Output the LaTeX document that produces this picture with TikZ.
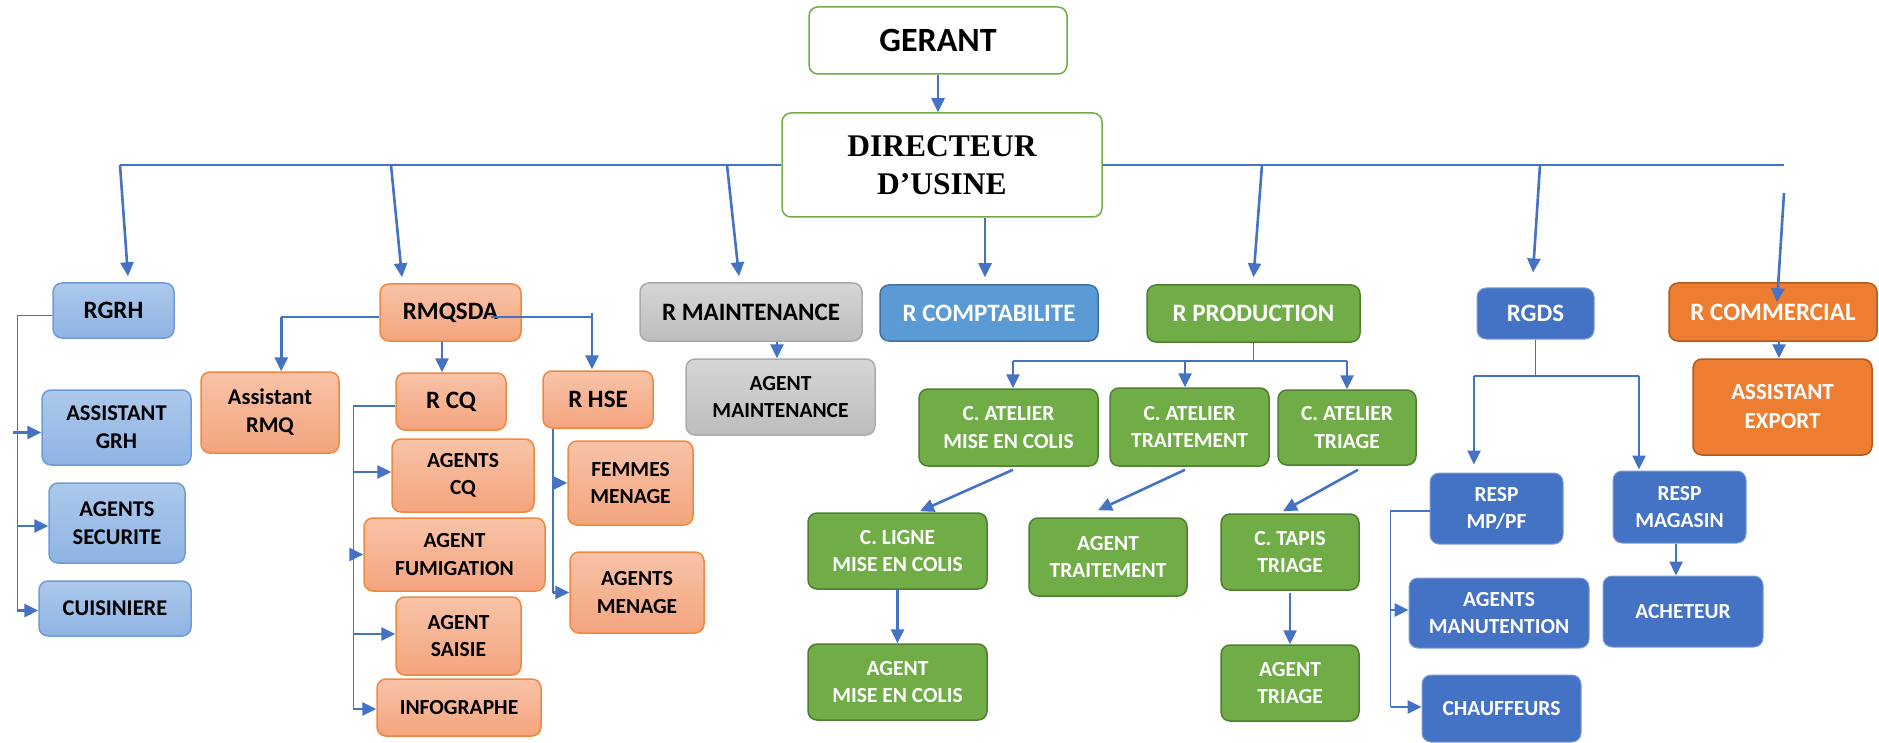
\documentclass[tikz,border=0pt]{standalone}
\usepackage{fontspec}
\setmainfont{Carlito}
\newfontfamily\serifbold{Liberation Serif}
\usetikzlibrary{arrows.meta}

\definecolor{link}{HTML}{4472C4}
\definecolor{topgreen}{HTML}{70AD47}
\definecolor{lbTop}{HTML}{ADC9EC}
\definecolor{lbBot}{HTML}{8EB3E3}
\definecolor{lbDraw}{HTML}{6E9DD6}
\definecolor{orTop}{HTML}{F8C3A8}
\definecolor{orBot}{HTML}{F4A47E}
\definecolor{orDraw}{HTML}{F0883F}
\definecolor{grTop}{HTML}{D6D6D6}
\definecolor{grBot}{HTML}{BDBDBD}
\definecolor{grDraw}{HTML}{ABABAB}
\definecolor{cpFill}{HTML}{5B9BD5}
\definecolor{cpDraw}{HTML}{41719C}
\definecolor{gnFill}{HTML}{70AD47}
\definecolor{gnDraw}{HTML}{507E32}
\definecolor{dbFill}{HTML}{4472C4}
\definecolor{dbDraw}{HTML}{7F9DD8}
\definecolor{ocFill}{HTML}{ED7D31}
\definecolor{ocDraw}{HTML}{AE5A21}

\begin{document}
\begin{tikzpicture}[x=1pt,y=-1pt,
  box/.style={rounded corners=9pt, inner sep=0pt, align=center, line width=1.5pt,
    font=\bfseries\fontsize{21.5}{27.5}\selectfont},
  big/.style={font=\bfseries\fontsize{22.5}{28}\selectfont},
  head/.style={font=\bfseries\fontsize{25}{29}\selectfont},
  topbox/.style={box, draw=topgreen, fill=white},
  lblue/.style={box, big, draw=lbDraw, top color=lbTop, bottom color=lbBot, text=black},
  lorange/.style={box, draw=orDraw, top color=orTop, bottom color=orBot, text=black},
  lgrey/.style={box, draw=grDraw, top color=grTop, bottom color=grBot, text=black},
  compta/.style={box, draw=cpDraw, fill=cpFill, text=white},
  green/.style={box, draw=gnDraw, fill=gnFill, text=white},
  dblue/.style={box, draw=dbDraw, fill=dbFill, text=white, line width=1pt},
  dorange/.style={box, draw=ocDraw, fill=ocFill, text=white},
  conn/.style={draw=link, line width=1.5pt},
  arrow/.style={draw=link, line width=2.6pt, -{Triangle[length=14pt,width=13pt]}},
]
\useasboundingbox (0,0) rectangle (1879,743);

% ---- top management ----
\node[topbox, minimum width=258pt, minimum height=67pt, font=\bfseries\fontsize{34}{38}\selectfont] (gerant) at (938,40.5) {GERANT};
\node[topbox, minimum width=320pt, minimum height=104pt, font=\serifbold\bfseries\fontsize{31.5}{38}\selectfont] (dir) at (942,165) {DIRECTEUR\\D’USINE};

% ---- department heads ----
\node[lblue, head, minimum width=121pt, minimum height=55pt] (rgrh) at (113.5,310.5) {RGRH};
\node[lorange, head, minimum width=141pt, minimum height=57pt] (rmq) at (450.5,312.5) {RMQSDA};
\node[lgrey, head, minimum width=222pt, minimum height=58pt] (rmaint) at (751,312) {R MAINTENANCE};
\node[compta, head, minimum width=218pt, minimum height=56pt] (rcompta) at (989,313) {R COMPTABILITE};
\node[green, head, minimum width=213pt, minimum height=57pt] (rprod) at (1253.5,313.5) {R PRODUCTION};
\node[dblue, head, minimum width=117pt, minimum height=51pt] (rgds) at (1535.5,313.5) {RGDS};
\node[dorange, head, minimum width=208pt, minimum height=58pt] (rcom) at (1773,312) {R COMMERCIAL};

% ---- human resources ----
\node[lblue, minimum width=149pt, minimum height=75pt] (agrh) at (116.5,427.5) {ASSISTANT\\GRH};
\node[lblue, minimum width=136pt, minimum height=80pt] (asec) at (117,523) {AGENTS\\SECURITE};
\node[lblue, minimum width=152pt, minimum height=55pt] (cuis) at (115,608.5) {CUISINIERE};

% ---- quality ----
\node[lorange, big, minimum width=138pt, minimum height=81pt] (armq) at (270,412.5) {Assistant\\RMQ};
\node[lorange, head, minimum width=110pt, minimum height=57pt] (rcq) at (451,401.5) {R CQ};
\node[lorange, head, minimum width=110pt, minimum height=57pt] (rhse) at (598,399.5) {R HSE};
\node[lorange, minimum width=142pt, minimum height=73pt] (agcq) at (463,475.5) {AGENTS\\CQ};
\node[lorange, minimum width=181pt, minimum height=73pt] (afum) at (454.5,554.5) {AGENT\\FUMIGATION};
\node[lorange, minimum width=125pt, minimum height=78pt] (asai) at (458.5,636) {AGENT\\SAISIE};
\node[lorange, minimum width=164pt, minimum height=57pt] (info) at (459,707.5) {INFOGRAPHE};
\node[lorange, minimum width=125pt, minimum height=84pt] (femm) at (630.5,483) {FEMMES\\MENAGE};
\node[lorange, minimum width=134pt, minimum height=81pt] (amen) at (637,592.5) {AGENTS\\MENAGE};

% ---- maintenance ----
\node[lgrey, minimum width=189pt, minimum height=76pt] (amaint) at (780.5,397) {AGENT\\MAINTENANCE};

% ---- production ----
\node[green, minimum width=179pt, minimum height=77pt] (camec) at (1008.5,427.5) {C. ATELIER\\MISE EN COLIS};
\node[green, minimum width=159pt, minimum height=78pt] (catrt) at (1189.5,427) {C. ATELIER\\TRAITEMENT};
\node[green, minimum width=138pt, minimum height=75pt] (catri) at (1347,427.5) {C. ATELIER\\TRIAGE};
\node[green, minimum width=179pt, minimum height=76pt] (clig) at (897.5,551) {C. LIGNE\\MISE EN COLIS};
\node[green, minimum width=179pt, minimum height=76pt] (agmec) at (897.5,682) {AGENT\\MISE EN COLIS};
\node[green, minimum width=158pt, minimum height=78pt] (agtrt) at (1108,557) {AGENT\\TRAITEMENT};
\node[green, minimum width=138pt, minimum height=76pt] (ctap) at (1290,552) {C. TAPIS\\TRIAGE};
\node[green, minimum width=138pt, minimum height=76pt] (agtri) at (1290,683) {AGENT\\TRIAGE};

% ---- logistics ----
\node[dblue, minimum width=133pt, minimum height=71pt] (rmppf) at (1496.5,508.5) {RESP\\MP/PF};
\node[dblue, minimum width=133pt, minimum height=72pt] (rmag) at (1679.5,507) {RESP\\MAGASIN};
\node[dblue, minimum width=180pt, minimum height=70pt] (aman) at (1499,613) {AGENTS\\MANUTENTION};
\node[dblue, minimum width=160pt, minimum height=71pt] (ach) at (1683,611.5) {ACHETEUR};
\node[dblue, minimum width=159pt, minimum height=67pt] (chauf) at (1501.5,708.5) {CHAUFFEURS};

% ---- commercial ----
\node[dorange, font=\bfseries\fontsize{23}{29}\selectfont, minimum width=179pt, minimum height=96pt] (aexp) at (1782.5,407) {ASSISTANT\\EXPORT};

% ================= connectors =================
\draw[arrow] (gerant.south) -- (gerant.south |- dir.north);

% main bus from the plant director
\coordinate (busL) at (120,165);
\coordinate (busR) at (1784,165);
\draw[conn] (busL) -- (dir.west) (dir.east) -- (busR);
\coordinate (tapB) at (391,165);
\coordinate (tapC) at (727,165);
\coordinate (tapD) at (1262,165);
\coordinate (tapE) at (1540,165);
\coordinate (tapF) at (1784,193);
\draw[arrow] (busL) -- ([xshift=14.5pt,yshift=6pt]rgrh.north);
\draw[arrow] (tapB) -- ([xshift=-48.5pt,yshift=6pt]rmq.north);
\draw[arrow] (tapC) -- ([xshift=-12pt,yshift=6pt]rmaint.north);
\draw[arrow] ([xshift=43pt]dir.south) -- ([xshift=-4pt,yshift=7pt]rcompta.north);
\draw[arrow] (tapD) -- ([yshift=7pt]rprod.north);
\draw[arrow] (tapE) -- ([xshift=-2.5pt,yshift=15pt]rgds.north);
\draw[arrow] (tapF) -- ([xshift=4pt,yshift=-20pt]rcom.north);

% human resources bracket
\draw[conn] ([yshift=-5pt]rgrh.west) -- ++(-35,0) coordinate (gx) -- ([yshift=-2pt]gx |- cuis.west);
\draw[arrow] ([xshift=-4pt,yshift=-5pt]gx |- agrh.west) -- ([yshift=-5pt]agrh.west);
\draw[arrow] ([yshift=-3pt]gx |- asec.west) -- ([yshift=-3pt]asec.west);
\draw[arrow] ([yshift=-2pt]gx |- cuis.west) -- ([yshift=-2pt]cuis.west);

% quality branch
\draw[conn] ([yshift=-4.5pt]rmq.west) -- ++(-98,0) coordinate (qa);
\draw[arrow] (qa) -- (qa |- armq.north);
\draw[conn] ([xshift=40.5pt,yshift=-4.5pt]rmq.center) -- ++(101,0) coordinate (qb);
\draw[arrow] ([yshift=4pt]qb) -- ([yshift=1pt]qb |- rhse.north);
\draw[arrow] ([xshift=-8.5pt]rmq.south) -- ([xshift=-8.5pt]rmq.south |- rcq.north);

\draw[conn] ([yshift=-4.5pt]rcq.west) -- ++(-42,0) coordinate (cqa) -- ([yshift=-1.5pt]cqa |- info.west);
\draw[arrow] ([yshift=3.5pt]cqa |- agcq.west) -- ([yshift=3.5pt]agcq.west);
\draw[arrow] (cqa |- afum.west) -- (afum.west);
\draw[arrow] ([yshift=2pt]cqa |- asai.west) -- ([yshift=2pt]asai.west);
\draw[arrow] ([yshift=-1.5pt]cqa |- info.west) -- ([yshift=-1.5pt]info.west);

\draw[conn] ([xshift=-45pt]rhse.south) coordinate (hs) -- (hs |- amen.west);
\draw[arrow] (hs |- femm.west) -- (femm.west);
\draw[arrow] (hs |- amen.west) -- (amen.west);

% maintenance
\draw[arrow] ([xshift=26pt]rmaint.south) -- ([xshift=26pt]rmaint.south |- amaint.north);

% production
\draw[conn] (rprod.south) -- ++(0,18) coordinate (pa);
\draw[conn, line width=2pt] ([xshift=4.5pt]pa -| camec.north) -- (pa -| catri.north);
\draw[arrow] ([xshift=4.5pt]pa -| camec.north) -- ([xshift=4.5pt]camec.north);
\draw[arrow] ([xshift=-4.5pt]pa -| catrt.north) -- ([xshift=-4.5pt]catrt.north);
\draw[arrow] (pa -| catri.north) -- (catri.north);
\draw[arrow] ([xshift=4.5pt,yshift=-3pt]camec.south) -- ([xshift=22.5pt,yshift=1pt]clig.north);
\draw[arrow] ([xshift=-4.5pt,yshift=-3pt]catrt.south) -- ([xshift=-10pt,yshift=7pt]agtrt.north);
\draw[arrow] ([xshift=11pt,yshift=-4pt]catri.south) -- ([xshift=-7pt,yshift=2pt]ctap.north);
\draw[arrow] (clig.south) -- (agmec.north);
\draw[arrow] ([yshift=-2pt]ctap.south) -- (agtri.north);

% logistics
\draw[conn] (rgds.south) -- ++(0,37) coordinate (ga);
\coordinate (gl) at (1474,376);
\coordinate (gr) at (1639,376);
\draw[conn] (gl) -- (gr);
\draw[arrow] (gl) -- ([yshift=8pt]gl |- rmppf.north);
\draw[arrow] (gr) -- ([yshift=1pt]gr |- rmag.north);
\draw[conn] ([yshift=-2.5pt]rmppf.west) -- ++(-39,0) coordinate (ma) -- ([yshift=1.5pt]ma |- chauf.west);
\draw[arrow] ([yshift=3pt]ma |- aman.west) -- ([yshift=3pt]aman.west);
\draw[arrow] ([yshift=1.5pt]ma |- chauf.west) -- ([yshift=1.5pt]chauf.west);
\draw[arrow] ([xshift=-3.5pt]rmag.south) -- ([xshift=-3.5pt]rmag.south |- ach.north);

% commercial
\draw[arrow] ([xshift=6pt]rcom.south) -- ([xshift=6pt]rcom.south |- aexp.north);
\end{tikzpicture}
\end{document}
